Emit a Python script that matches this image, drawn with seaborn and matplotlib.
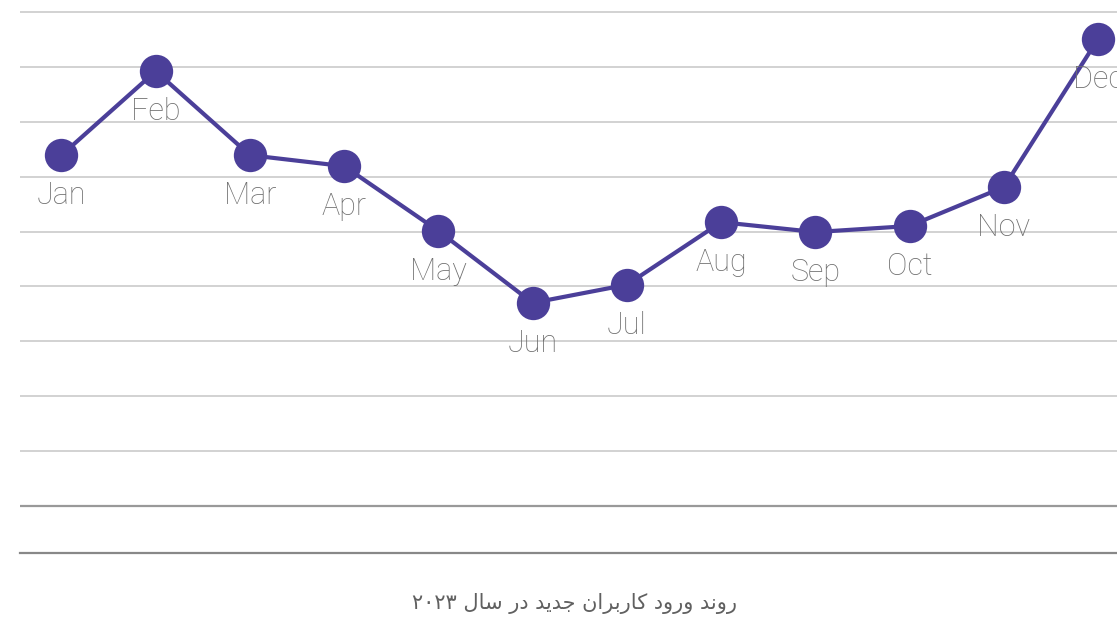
import pandas as pd
import seaborn as sns
import matplotlib.pyplot as plt

# Data
months = ["Jan", "Feb", "Mar", "Apr", "May", "Jun", "Jul", "Aug", "Sep", "Oct", "Nov", "Dec"]
new_users = [63.9, 79.2, 63.9, 61.9, 50.1, 37.0, 40.3, 51.7, 49.9, 51.0, 58.1, 85.1]
grid_values = list(range(0, 100, 10))

# Persian title, shaped by hand (presentation forms, visual order)
title_fa = ("\u06f2\u06f0\u06f2\u06f3 "
            "\ufedd\ufe8e\ufeb3 "
            "\ufead\ufea9 "
            "\ufeaa\ufef3\ufeaa\ufe9f "
            "\ufee5\ufe8d\ufeae\ufe91\ufead\ufe8e\ufb90 "
            "\ufea9\ufeed\ufead\ufeed "
            "\ufeaa\ufee7\ufeed\ufead")

line_color = "#4b3f99"
text_color = "#6e6e6e"

df = pd.DataFrame({"idx": range(len(months)), "month": months, "value": new_users})

sns.set_style("white")
plt.rcParams['font.family'] = ['Roboto', 'DejaVu Sans']

fig = plt.figure(figsize=(11.17, 6.20), dpi=100)
ax = fig.add_axes([20 / 1117, 67 / 620, 1 - 20 / 1117, 553 / 620])

ax.set_yticks(grid_values)
ax.yaxis.grid(True, color="#d2d2d2", linewidth=1.4)
ax.axhline(0, color="#999999", linewidth=1.6, zorder=1)
ax.set_axisbelow(True)

sns.lineplot(data=df, x="idx", y="value", ax=ax, color=line_color, linewidth=3,
             marker="o", markersize=24, markeredgewidth=0, zorder=3)

for i, row in df.iterrows():
    ax.annotate(row["month"], (row["idx"], row["value"]), xytext=(0, -29),
                textcoords="offset points", ha="center", va="center",
                fontsize=22, fontweight="light", color=text_color, zorder=4)

ax.set_xlim(-0.44, 11.2)
ax.set_ylim(-47 / 5.49, 506 / 5.49)
ax.set_xticks([])
ax.set_yticklabels([])
ax.tick_params(left=False, bottom=False)
ax.set_xlabel("")
ax.set_ylabel("")
for side in ["top", "left", "right"]:
    ax.spines[side].set_visible(False)
ax.spines["bottom"].set_color("#888888")
ax.spines["bottom"].set_linewidth(1.6)

fig.text(575 / 1117, 16 / 620, title_fa, ha="center", va="center",
         fontsize=15, color="#606060", family=["DejaVu Sans"])

fig.savefig("out.png", dpi=100)
